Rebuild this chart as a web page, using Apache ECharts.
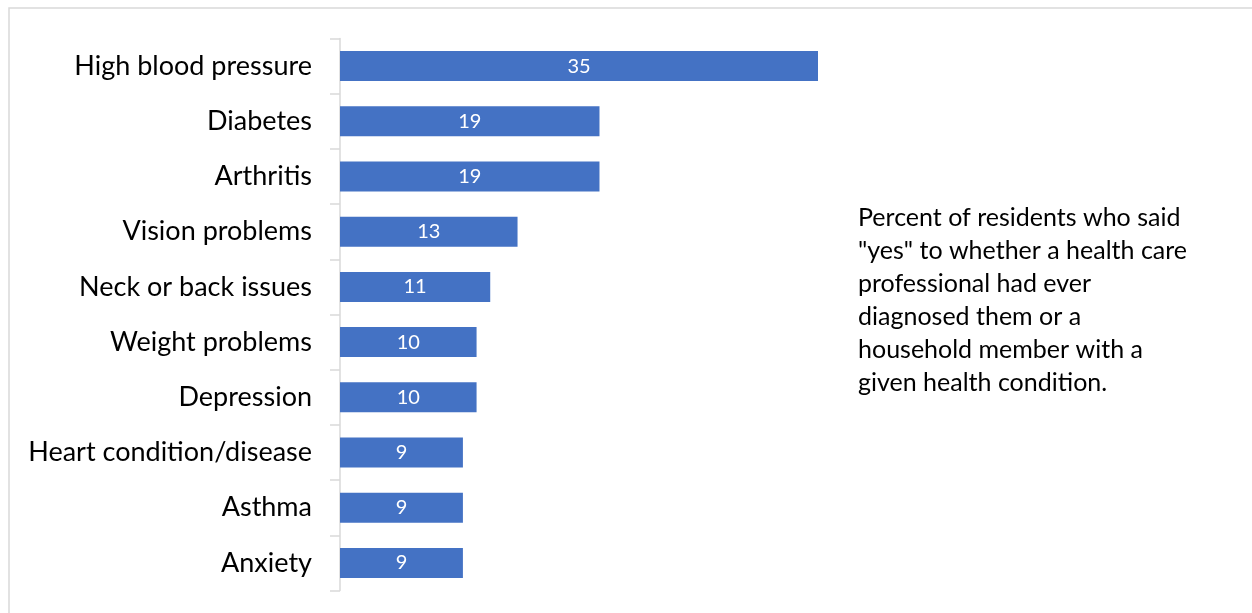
<!DOCTYPE html>
<html>
<head>
<meta charset="utf-8">
<script src="https://cdn.jsdelivr.net/npm/echarts@6/dist/echarts.min.js"></script>
<style>
  html, body { margin: 0; padding: 0; background: #ffffff; }
  #chart { width: 1252px; height: 613px; }
</style>
</head>
<body>
<div id="chart"></div>
<script>
// Health conditions, listed top to bottom
const conditions = [
  'High blood pressure', 'Diabetes', 'Arthritis', 'Vision problems',
  'Neck or back issues', 'Weight problems', 'Depression',
  'Heart condition/disease', 'Asthma', 'Anxiety'
];
// Percent of residents answering "yes"
const percentYes = [35, 19, 19, 13, 11, 10, 10, 9, 9, 9];

const noteLines = [
  'Percent of residents who said',
  '"yes" to whether a health care',
  'professional had ever',
  'diagnosed them or a',
  'household member with a',
  'given health condition.'
];

const FONT = 'Lato, "Open Sans", sans-serif';

const chart = echarts.init(document.getElementById('chart'), null, { renderer: 'canvas' });

chart.setOption({
  backgroundColor: '#ffffff',
  animation: false,
  grid: { left: 340, top: 38.5, width: 478, height: 552, containLabel: false },
  xAxis: {
    type: 'value',
    min: 0,
    max: 35,
    show: false
  },
  yAxis: {
    type: 'category',
    inverse: true,
    data: conditions,
    axisLine: { show: true, lineStyle: { color: '#d9d9d9', width: 1.5 } },
    axisTick: { show: true, length: 10, lineStyle: { color: '#d9d9d9', width: 1.5 } },
    axisLabel: { color: '#000000', fontSize: 27, fontFamily: FONT, margin: 28 },
    splitLine: { show: false }
  },
  series: [{
    type: 'bar',
    data: percentYes,
    barWidth: 30,
    itemStyle: { color: '#4472c4' },
    label: {
      show: true,
      position: 'inside',
      color: '#ffffff',
      fontSize: 20,
      fontFamily: FONT
    }
  }],
  graphic: [
    {
      type: 'rect',
      shape: { x: 9, y: 8, width: 1260, height: 620 },
      style: { fill: 'none', stroke: '#d9d9d9', lineWidth: 1.5 },
      silent: true
    },
    {
      type: 'text',
      left: 858,
      top: 201,
      style: {
        text: noteLines.join('\n'),
        fill: '#000000',
        font: '25px ' + FONT,
        lineHeight: 33
      }
    }
  ]
});
</script>
</body>
</html>
